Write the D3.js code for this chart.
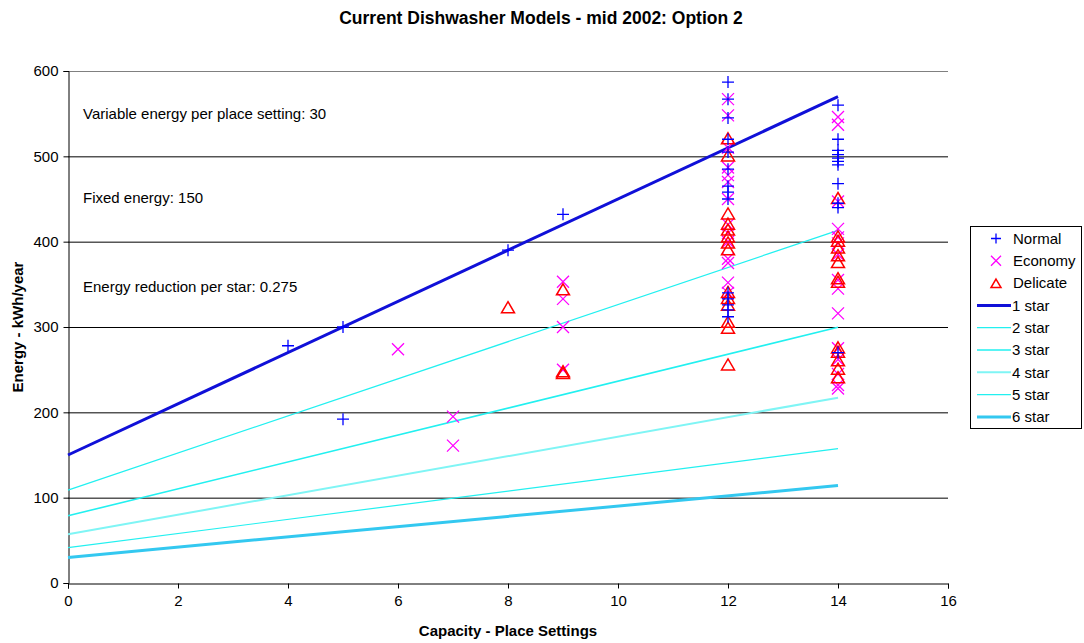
<!DOCTYPE html>
<html><head><meta charset="utf-8">
<script src="https://cdn.jsdelivr.net/npm/d3@7"></script>
<style>body{margin:0;background:#fff;font-family:"Liberation Sans",Arial,sans-serif;}</style>
</head><body><svg id="c" width="1084" height="643"></svg>
<script>
const normalX = [4,5,5,8,9, 12,12,12,12,12,12,12,12,12,12,12,12,12,12, 14,14,14,14,14,14,14,14,14,14,14];
const normalY = [278,300,192,390,432, 587,567,545,520,505,485,465,458,450,340,333,326,320,312, 560,520,507,502,498,494,490,468,445,440,270];
const economyX = [6,7,7,9,9,9,9, 12,12,12,12,12,12,12,12,12,12,12,12,12,12, 14,14,14,14,14,14,14,14,14,14,14,14,14,14,14];
const economyY = [274,195,161,353,333,300,250, 567,548,510,487,478,470,450,420,410,400,380,375,352,340, 546,537,447,415,405,398,385,355,345,316,275,262,245,232,228];
const delicateX = [8,9,9,9, 12,12,12,12,12,12,12,12,12,12,12,12,12,12, 14,14,14,14,14,14,14,14,14,14,14,14,14];
const delicateY = [322,343,247,245, 520,500,432,420,413,405,398,390,340,333,325,305,298,255, 450,405,400,392,383,375,356,352,275,270,260,250,240];
const starNames = ["1 star","2 star","3 star","4 star","5 star","6 star"];
const starX = [0,14];
const starStart = [150,108.8,78.8,57.2,41.4,30.0];
const starEnd = [570,413.3,299.6,217.2,157.5,114.2];
const xTicks = [0,2,4,6,8,10,12,14,16];
const yTicks = [0,100,200,300,400,500,600];
const notes = ["Variable energy per place setting: 30","Fixed energy: 150","Energy reduction per star: 0.275"];
const noteY = [550,452,347];

const svg = d3.select("#c");
const L=68,R=948,T=71,B=583;
const x = d3.scaleLinear().domain([0,16]).range([L,R]);
const y = d3.scaleLinear().domain([0,600]).range([B,T]);

// gridlines
svg.append("g").selectAll("line").data(yTicks.filter(d=>d>0)).join("line")
  .attr("x1",L).attr("x2",R).attr("y1",d=>y(d)+0.5).attr("y2",d=>y(d)+0.5)
  .attr("stroke",d=>d===600?"#808080":"#000").attr("stroke-width",1);

// axes
const ya = svg.append("g").attr("transform",`translate(${L+0.5},0)`)
  .call(d3.axisLeft(y).tickValues(yTicks).tickSize(5).tickPadding(5));
const xa = svg.append("g").attr("transform",`translate(0,${B+0.5})`)
  .call(d3.axisBottom(x).tickValues(xTicks).tickSize(5).tickPadding(7));
[ya,xa].forEach(g=>{g.selectAll("text").attr("font-size",15).attr("font-family","Liberation Sans, Arial").attr("fill","#000");
 g.selectAll("line,path").attr("stroke","#000");});

// star lines
const starColors = ["#1010d8","#22f0f0","#22f0f0","#7ff5f5","#22f0f0","#33c8f0"];
const starWidths = [3,1.2,1.6,2,1.2,3];
const lg = d3.line().x(d=>x(d[0])).y(d=>y(d[1]));
starNames.forEach((n,i)=>{
  svg.append("path").attr("d",lg([[starX[0],starStart[i]],[starX[1],starEnd[i]]]))
   .attr("stroke",starColors[i]).attr("stroke-width",starWidths[i]).attr("fill","none");
});

// markers
function plus(g,cx,cy,c,s=6){g.append("path").attr("d",`M${cx-s},${cy}H${cx+s}M${cx},${cy-s}V${cy+s}`).attr("stroke",c).attr("stroke-width",1.3).attr("fill","none");}
function cross(g,cx,cy,c,s=6){g.append("path").attr("d",`M${cx-s},${cy-s}L${cx+s},${cy+s}M${cx-s},${cy+s}L${cx+s},${cy-s}`).attr("stroke",c).attr("stroke-width",1.3).attr("fill","none");}
function tri(g,cx,cy,c,s=6.5){g.append("path").attr("d",`M${cx},${cy-s}L${cx+s},${cy+s*0.7}L${cx-s},${cy+s*0.7}Z`).attr("stroke",c).attr("stroke-width",1.5).attr("fill","none");}
const mg = svg.append("g");
economyX.forEach((v,i)=>cross(mg,x(v),y(economyY[i]),"#ff00ff"));
delicateX.forEach((v,i)=>tri(mg,x(v),y(delicateY[i]),"#ff0000"));
normalX.forEach((v,i)=>plus(mg,x(v),y(normalY[i]),"#0000ff"));

// notes
notes.forEach((t,i)=>svg.append("text").attr("x",83).attr("y",y(noteY[i])).attr("dy","0.35em")
  .attr("font-size",15).attr("fill","#000").text(t));

// title
svg.append("text").attr("x",541).attr("y",24).attr("text-anchor","middle").attr("font-weight","bold")
  .attr("font-size",17.5).text("Current Dishwasher Models - mid 2002: Option 2");
svg.append("text").attr("x",508).attr("y",636).attr("text-anchor","middle").attr("font-weight","bold")
  .attr("font-size",15).text("Capacity - Place Settings");
svg.append("text").attr("transform","translate(23,327) rotate(-90)").attr("text-anchor","middle").attr("font-weight","bold")
  .attr("font-size",15).text("Energy - kWh/year");

// legend
const lgG = svg.append("g");
lgG.append("rect").attr("x",970.5).attr("y",226.5).attr("width",111).attr("height",202).attr("fill","#fff").attr("stroke","#000");
const legItems = ["Normal","Economy","Delicate"].concat(starNames);
legItems.forEach((n,i)=>{
  const cy = 238.5 + i*22.3;
  if(i===0) plus(lgG,996,cy,"#0000ff",5);
  else if(i===1) cross(lgG,996,cy,"#ff00ff",5);
  else if(i===2) tri(lgG,996,cy+1,"#ff0000",5);
  else lgG.append("line").attr("x1",977).attr("x2",1011).attr("y1",cy).attr("y2",cy)
     .attr("stroke",starColors[i-3]).attr("stroke-width",starWidths[i-3]);
  lgG.append("text").attr("x",i<3?1013:1012).attr("y",cy).attr("dy","0.35em").attr("font-size",15).text(n);
});
</script></body></html>
